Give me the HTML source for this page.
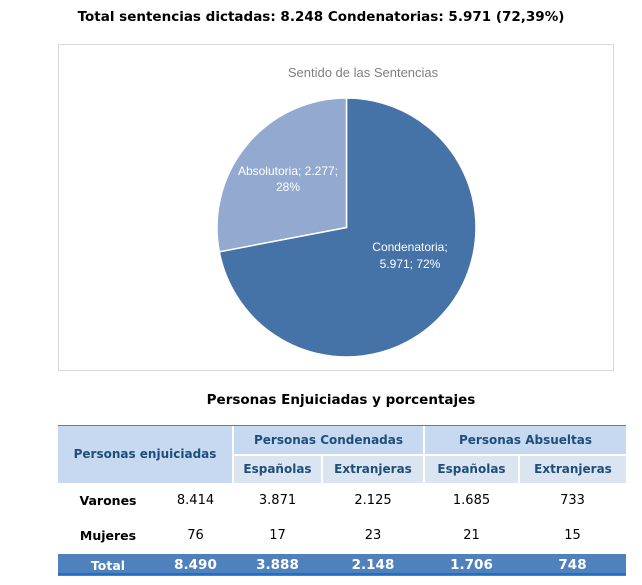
<!DOCTYPE html>
<html><head><meta charset="utf-8"><style>
body{margin:0;width:642px;height:585px;background:#fff;font-family:"DejaVu Sans","Liberation Sans",sans-serif;position:relative;overflow:hidden}
.t{position:absolute;white-space:nowrap}
table{position:absolute;left:58px;top:426px;width:568px;border-collapse:collapse;font-size:12px;table-layout:fixed}
td{text-align:center;padding:0;overflow:hidden;white-space:nowrap;vertical-align:middle;line-height:15px}
.h{background:#c6d9f1;color:#1f4e79;font-weight:bold}
.h2{background:#dbe5f1;color:#1f4e79;font-weight:bold}
.tot td{background:#4f81bd;color:#fff;font-weight:bold;font-size:13.5px}
</style></head><body>
<div class="t" style="left:0;width:642px;text-align:center;top:9px;font-weight:bold;font-size:13.5px">Total sentencias dictadas: 8.248 Condenatorias: 5.971 (72,39%)</div>
<div style="position:absolute;left:58px;top:44px;width:554px;height:325px;border:1px solid #d9d9d9"></div>
<svg style="position:absolute;left:0;top:0" width="642" height="400">
<text x="363" y="77" text-anchor="middle" font-family="Liberation Sans,sans-serif" font-size="13" fill="#7f7f7f">Sentido de las Sentencias</text>
<path d="M346.5,227.5 L346.5,98 A129.5,129.5 0 1 1 219.3,251.8 Z" fill="#4572a7" stroke="#fff" stroke-width="1.5"/>
<path d="M346.5,227.5 L219.3,251.8 A129.5,129.5 0 0 1 346.5,98 Z" fill="#93a9cf" stroke="#fff" stroke-width="1.5"/>
<g font-family="Liberation Sans,sans-serif" font-size="12" fill="#fff" text-anchor="middle">
<text x="288" y="175">Absolutoria; 2.277;</text><text x="288" y="191">28%</text>
<text x="410" y="251">Condenatoria;</text><text x="410" y="268">5.971; 72%</text></g>
</svg>
<div class="t" style="left:0;width:682px;text-align:center;top:392px;font-weight:bold;font-size:13.5px">Personas Enjuiciadas y porcentajes</div>
<div style="position:absolute;left:58px;top:425px;width:568px;height:2px;background:#4f81bd"></div>
<table>
<colgroup><col style="width:100px"><col style="width:75px"><col style="width:89px"><col style="width:102px"><col style="width:95px"><col style="width:107px"></colgroup>
<tr style="height:29px"><td colspan="2" rowspan="2" class="h" style="border-right:2px solid #fff">Personas enjuiciadas</td><td colspan="2" class="h" style="border-right:2px solid #fff;border-bottom:2px solid #fff">Personas Condenadas</td><td colspan="2" class="h" style="border-bottom:2px solid #fff">Personas Absueltas</td></tr>
<tr style="height:28px"><td class="h2" style="border-right:2px solid #fff">Españolas</td><td class="h2" style="border-right:2px solid #fff">Extranjeras</td><td class="h2" style="border-right:2px solid #fff">Españolas</td><td class="h2">Extranjeras</td></tr>
<tr style="height:34px;font-size:13px"><td style="font-weight:bold;font-size:12.5px">Varones</td><td>8.414</td><td>3.871</td><td>2.125</td><td>1.685</td><td>733</td></tr>
<tr style="height:37px;font-size:13px"><td style="font-weight:bold;font-size:12.5px">Mujeres</td><td>76</td><td>17</td><td>23</td><td>21</td><td>15</td></tr>
<tr class="tot" style="height:22px"><td style="font-size:12.5px">Total</td><td>8.490</td><td>3.888</td><td>2.148</td><td>1.706</td><td>748</td></tr>
</table>
<div style="position:absolute;left:58px;top:573px;width:568px;height:2px;background:#1f6fc5"></div>
</body></html>
